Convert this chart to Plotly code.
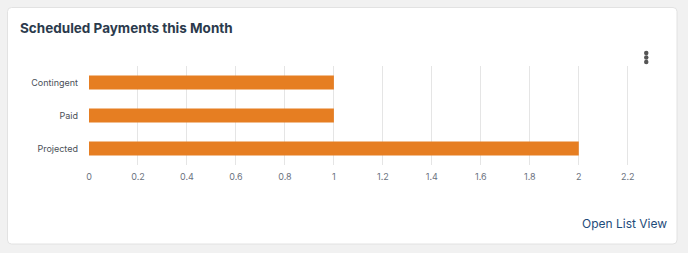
import plotly.graph_objects as go

categories = ["Contingent", "Paid", "Projected"]
values = [1, 1, 2]
x_ticks = [0, 0.2, 0.4, 0.6, 0.8, 1, 1.2, 1.4, 1.6, 1.8, 2, 2.2]
x_tick_labels = ["0", "0.2", "0.4", "0.6", "0.8", "1", "1.2", "1.4", "1.6", "1.8", "2", "2.2"]

W, H = 688, 253
L, R, T, B = 89, 48, 66, 88
pw, ph = W - L - R, H - T - B

def px(x):
    return (x - L) / pw

def py(y):
    return 1 - (y - T) / ph

fig = go.Figure()
fig.add_trace(go.Bar(
    y=categories, x=values, orientation="h",
    marker=dict(color="#E67E22", line=dict(width=0)),
    hoverinfo="x+y",
))

# card
cx0, cy0, cx1, cy1, r = 7.5, 7.5, 677, 244, 4
path = (f"M {px(cx0 + r)} {py(cy0)} L {px(cx1 - r)} {py(cy0)} "
        f"Q {px(cx1)} {py(cy0)} {px(cx1)} {py(cy0 + r)} "
        f"L {px(cx1)} {py(cy1 - r)} Q {px(cx1)} {py(cy1)} {px(cx1 - r)} {py(cy1)} "
        f"L {px(cx0 + r)} {py(cy1)} Q {px(cx0)} {py(cy1)} {px(cx0)} {py(cy1 - r)} "
        f"L {px(cx0)} {py(cy0 + r)} Q {px(cx0)} {py(cy0)} {px(cx0 + r)} {py(cy0)} Z")
shapes = [dict(type="path", xref="paper", yref="paper", path=path,
               fillcolor="white", line=dict(color="#e2e2e2", width=1), layer="below")]
for dy in (53, 57.5, 62):
    shapes.append(dict(type="circle", xref="paper", yref="paper",
                       x0=px(644), x1=px(648.5), y0=py(dy - 2.2), y1=py(dy + 2.2),
                       fillcolor="#555", line=dict(width=0)))

fig.update_layout(
    width=W, height=H,
    margin=dict(l=L, r=R, t=T, b=B),
    paper_bgcolor="#f1f1f1",
    plot_bgcolor="rgba(0,0,0,0)",
    bargap=0.576,
    showlegend=False,
    font=dict(family="Inter, Roboto, sans-serif", size=9, color="#4a4f57"),
    shapes=shapes,
    xaxis=dict(range=[0, 2.25], tickvals=x_ticks, ticktext=x_tick_labels,
               showgrid=True, gridcolor="#e5e5e5", gridwidth=1, zeroline=False,
               showline=False, ticks="", tickfont=dict(color="#6b7280", size=9),
               ticklabelstandoff=5, fixedrange=True),
    yaxis=dict(categoryorder="array", categoryarray=categories, autorange="reversed",
               showgrid=False, zeroline=False, showline=False, ticks="",
               tickfont=dict(color="#4a4f57", size=9), ticklabelstandoff=10,
               fixedrange=True),
    annotations=[
        dict(text="<b>Scheduled Payments this Month</b>", xref="paper", yref="paper",
             x=px(18), y=py(28), xanchor="left", yanchor="middle", showarrow=False,
             font=dict(family="Inter, Roboto, sans-serif", size=13.5, color="#2b3a4c")),
        dict(text="Open List View", xref="paper", yref="paper",
             x=px(669), y=py(223), xanchor="right", yanchor="middle", showarrow=False,
             font=dict(family="Inter, Roboto, sans-serif", size=12, color="#1e4b7a")),
    ],
)

fig.write_html("out.html", config={"displayModeBar": False})
